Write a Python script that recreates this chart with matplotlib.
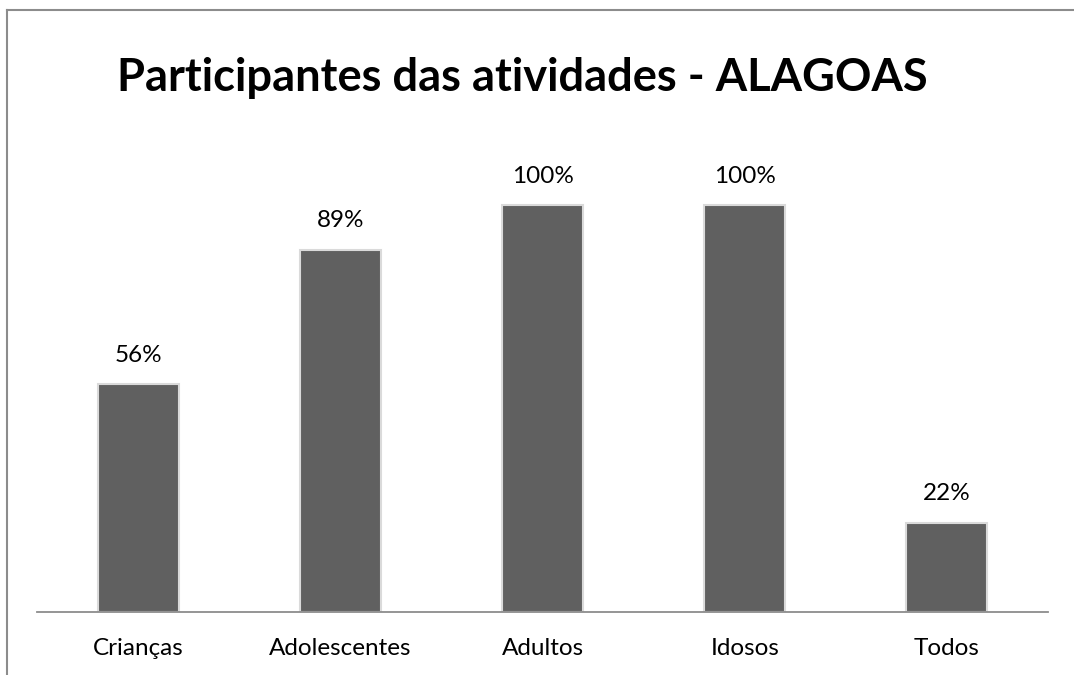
import matplotlib
matplotlib.use('Agg')
import matplotlib.pyplot as plt
from matplotlib.lines import Line2D

categorias = ['Crianças', 'Adolescentes', 'Adultos', 'Idosos', 'Todos']
valores = [56, 89, 100, 100, 22]
rotulos = ['56%', '89%', '100%', '100%', '22%']

plt.rcParams['font.family'] = ['Lato', 'DejaVu Sans']

fig = plt.figure(figsize=(10.74, 6.75), dpi=100)
ax = fig.add_axes([37/1074, 1 - 612/675, 1011/1074, (612 - 124)/675])

x = range(len(categorias))
bars = ax.bar(x, valores, width=0.4, color='#606060',
              edgecolor='#dadada', linewidth=1.5)

for b, r in zip(bars, rotulos):
    ax.annotate(r, (b.get_x() + b.get_width() / 2, b.get_height()),
                xytext=(0, 21), textcoords='offset points',
                ha='center', va='center', fontsize=17.5)

ax.set_xlim(-0.5, len(categorias) - 0.5)
ax.set_ylim(0, 120)
ax.set_yticks([])
ax.set_xticks(list(x))
ax.set_xticklabels(categorias, fontsize=17.5)
ax.tick_params(axis='x', length=0, pad=19)
for s in ['top', 'right', 'left']:
    ax.spines[s].set_visible(False)
ax.spines['bottom'].set_color('#8c8c8c')
ax.spines['bottom'].set_linewidth(1.3)

fig.text(117/1074, 1 - 78/675, 'Participantes das atividades - ALAGOAS',
         fontsize=32.6, fontweight='bold', va='center', ha='left')

# moldura do grafico (cortada a direita e embaixo)
fig.add_artist(Line2D([7/1074, 7/1074], [0, 1 - 10/675], color='#8c8c8c', lw=1.5))
fig.add_artist(Line2D([7/1074, 1], [1 - 10/675, 1 - 10/675], color='#8c8c8c', lw=1.5))

fig.savefig('out.png', dpi=100)
